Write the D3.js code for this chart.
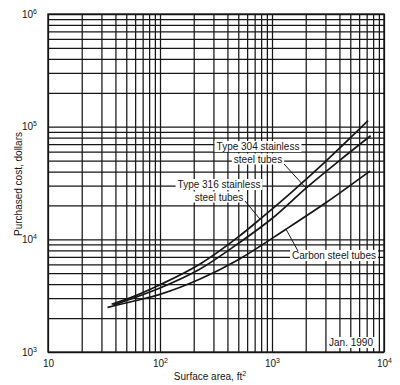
<!DOCTYPE html>
<html>
<head>
<meta charset="utf-8">
<script src="https://cdn.jsdelivr.net/npm/d3@7"></script>
<style>
body { margin: 0; background: #fff; }
svg { display: block; font-family: "Liberation Sans", Arial, sans-serif; }
</style>
</head>
<body>
<svg id="chart" width="400" height="385"></svg>
<script>
'use strict';

// decade labels on the two log axes
const areaDecades = [10, 100, 1000, 10000];
const costDecades = [1e3, 1e4, 1e5, 1e6];

// surface area (ft2) and purchased cost (dollars)
const type316Area = [37, 60, 100, 228, 500, 782, 1500, 3000, 7200];
const type316Cost = [2650, 3150, 3950, 6040, 10500, 15100, 26300, 49000, 113000];

const type304Area = [38, 60, 100, 228, 500, 1000, 2014, 4000, 7600];
const type304Cost = [2600, 3050, 3700, 5450, 9200, 15300, 28500, 50000, 83000];

const carbonArea = [34, 60, 100, 228, 500, 1334, 3000, 7500];
const carbonCost = [2490, 2850, 3250, 4440, 6600, 12300, 21000, 40400];

const margin = {top: 14, right: 16, bottom: 33, left: 48};
const width = 400 - margin.left - margin.right;
const height = 385 - margin.top - margin.bottom;
const ink = '#161616';

const xScale = d3.scaleLog().domain([10, 1e4]).range([0, width]);
const yScale = d3.scaleLog().domain([1e3, 1e6]).range([height, 0]);

function zip(a, b) {
    return a.map((v, i) => [v, b[i]]);
}

function powerLabels(sel) {
    sel.selectAll('text').each(function (d) {
        const exp = Math.round(Math.log10(d));
        const t = d3.select(this).text('10');
        if (exp !== 1) {
            t.append('tspan')
                .attr('dy', '-4')
                .attr('font-size', '7px')
                .text(exp);
        }
    });
}

const svg = d3.select('#chart')
    .append('g')
    .attr('transform', `translate(${margin.left},${margin.top})`);

// grid lines from the axes
const gridX = svg.append('g')
    .attr('transform', `translate(0,${height})`)
    .call(d3.axisBottom(xScale).tickValues(xScale.ticks()).tickSize(-height).tickFormat(''));
const gridY = svg.append('g')
    .call(d3.axisLeft(yScale).tickValues(yScale.ticks()).tickSize(-width).tickFormat(''));
[gridX, gridY].forEach(g => {
    g.select('.domain').remove();
    g.selectAll('line').attr('stroke', ink).attr('stroke-width', 1.25);
});

svg.append('rect')
    .attr('width', width)
    .attr('height', height)
    .attr('fill', 'none')
    .attr('stroke', ink)
    .attr('stroke-width', 1.4);

// tick labels
const xAxis = svg.append('g')
    .attr('transform', `translate(0,${height})`)
    .call(d3.axisBottom(xScale).tickValues(areaDecades).tickSize(0).tickPadding(8));
const yAxis = svg.append('g')
    .call(d3.axisLeft(yScale).tickValues(costDecades).tickSize(0).tickPadding(11));
[xAxis, yAxis].forEach(g => {
    g.select('.domain').remove();
    g.attr('font-family', null).attr('font-size', '10px');
    g.selectAll('text').attr('fill', ink);
    g.call(powerLabels);
});

// curves
const line = d3.line()
    .x(d => xScale(d[0]))
    .y(d => yScale(d[1]))
    .curve(d3.curveMonotoneX);

[zip(type316Area, type316Cost), zip(type304Area, type304Cost), zip(carbonArea, carbonCost)]
    .forEach(s => {
        svg.append('path')
            .attr('d', line(s))
            .attr('fill', 'none')
            .attr('stroke', ink)
            .attr('stroke-width', 1.7);
    });

// labels with white backing and leaders
const notes = svg.append('g');

function note(lines, cx, baseline, leaderFrom, leaderTo) {
    const g = notes.append('g');
    lines.forEach((txt, i) => {
        const t = g.append('text')
            .attr('x', cx - margin.left)
            .attr('y', baseline - margin.top + i * 12.5)
            .attr('text-anchor', 'middle')
            .attr('font-size', '10px')
            .attr('fill', ink)
            .text(txt);
        const b = t.node().getBBox();
        g.insert('rect', 'text')
            .attr('x', b.x - 2)
            .attr('y', b.y)
            .attr('width', b.width + 4)
            .attr('height', b.height)
            .attr('fill', '#fff');
    });
    if (leaderFrom) {
        g.append('line')
            .attr('x1', leaderFrom[0] - margin.left)
            .attr('y1', leaderFrom[1] - margin.top)
            .attr('x2', xScale(leaderTo[0]))
            .attr('y2', yScale(leaderTo[1]))
            .attr('stroke', ink)
            .attr('stroke-width', 1);
    }
}

note(['Type 304 stainless', 'steel tubes'], 258, 150, [284, 164], [2014, 28500]);
note(['Type 316 stainless', 'steel tubes'], 219, 188, [245, 201], [782, 15100]);
note(['Carbon steel tubes'], 334, 259, [298, 251], [1334, 12300]);
note(['Jan. 1990'], 351, 346);

// axis titles
d3.select('#chart').append('text')
    .attr('x', 210)
    .attr('y', 380)
    .attr('text-anchor', 'middle')
    .attr('font-size', '10px')
    .attr('fill', ink)
    .text('Surface area, ft')
    .append('tspan')
    .attr('dy', '-4')
    .attr('font-size', '7px')
    .text('2');

d3.select('#chart').append('text')
    .attr('transform', 'translate(22,184) rotate(-90)')
    .attr('text-anchor', 'middle')
    .attr('font-size', '10px')
    .attr('fill', ink)
    .text('Purchased cost, dollars');
</script>
</body>
</html>
